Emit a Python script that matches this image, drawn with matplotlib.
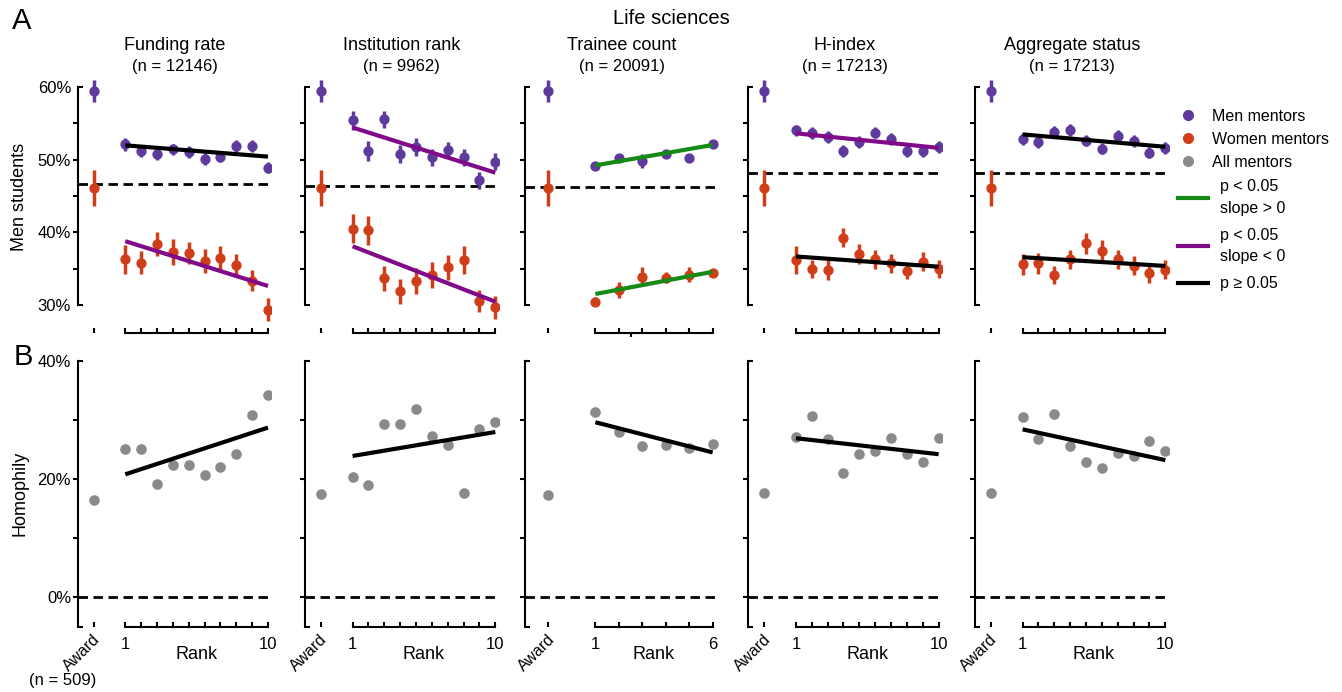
import numpy as np
import matplotlib
matplotlib.use('Agg')
import matplotlib.pyplot as plt
import matplotlib.transforms as mtransforms
from matplotlib.lines import Line2D

plt.rcParams['font.family'] = ['Liberation Sans', 'DejaVu Sans']

# ---------------- data ----------------
titles = ['Funding rate', 'Institution rank', 'Trainee count', 'H-index', 'Aggregate status']
n_labels = ['(n = 12146)', '(n = 9962)', '(n = 20091)', '(n = 17213)', '(n = 17213)']
n_ranks = [10, 10, 6, 10, 10]

award_men = [59.4, 59.4, 59.4, 59.4, 59.4]
award_men_err = [1.5, 1.5, 1.5, 1.5, 1.5]
award_women = [46.1, 46.1, 46.1, 46.1, 46.1]
award_women_err = [2.5, 2.5, 2.5, 2.5, 2.5]
baseline_men_students = [46.7, 46.4, 46.2, 48.1, 48.1]

men_funding = [52.1, 51.2, 50.8, 51.4, 51.0, 50.1, 50.4, 51.9, 51.9, 48.9]
men_funding_err = [0.9, 0.8, 0.8, 0.8, 0.8, 0.8, 0.8, 0.8, 0.8, 0.8]
women_funding = [36.3, 35.85, 38.4, 37.3, 37.2, 36.1, 36.5, 35.5, 33.4, 29.4]
women_funding_err = [1.95, 1.6, 1.65, 1.75, 1.5, 1.65, 1.6, 1.5, 1.5, 1.55]

men_institution = [55.4, 51.2, 55.5, 50.8, 51.7, 50.3, 51.3, 50.3, 47.15, 49.7]
men_institution_err = [1.3, 1.4, 1.2, 1.25, 1.2, 1.15, 1.15, 1.15, 1.15, 1.15]
women_institution = [40.5, 40.3, 33.7, 31.9, 33.35, 34.2, 35.2, 36.2, 30.6, 29.7]
women_institution_err = [2.0, 2.0, 1.7, 1.7, 1.8, 1.8, 1.7, 1.9, 1.5, 1.55]

men_trainee = [49.1, 50.25, 49.8, 50.7, 50.25, 52.1]
men_trainee_err = [0.2, 0.3, 1.0, 0.4, 0.5, 0.2]
women_trainee = [30.5, 32.1, 33.95, 33.8, 34.2, 34.5]
women_trainee_err = [0.6, 1.15, 1.35, 0.8, 1.05, 0.4]

men_hindex = [54.0, 53.6, 53.1, 51.2, 52.45, 53.7, 52.8, 51.2, 51.2, 51.7]
men_hindex_err = [0.8, 0.8, 0.8, 0.8, 0.8, 0.8, 0.8, 0.8, 0.8, 0.8]
women_hindex = [36.2, 35.0, 34.85, 39.3, 37.0, 36.3, 35.8, 34.7, 36.0, 34.95]
women_hindex_err = [1.95, 1.25, 1.4, 1.35, 1.4, 1.3, 1.3, 1.1, 1.25, 1.2]

men_aggregate = [52.8, 52.4, 53.8, 54.05, 52.6, 51.5, 53.2, 52.55, 50.95, 51.6]
men_aggregate_err = [0.8, 0.8, 0.8, 0.8, 0.8, 0.8, 0.8, 0.8, 0.8, 0.8]
women_aggregate = [35.6, 35.75, 34.2, 36.3, 38.5, 37.5, 36.3, 35.4, 34.4, 34.85]
women_aggregate_err = [1.5, 1.4, 1.25, 1.3, 1.45, 1.4, 1.3, 1.3, 1.3, 1.3]

# fitted trend lines: value at first rank, value at last rank, significance class
men_fit = [(51.95, 50.4), (54.4, 48.2), (49.2, 52.0), (53.6, 51.6), (53.45, 51.75)]
men_fit_sig = ['ns', 'neg', 'pos', 'neg', 'ns']
women_fit = [(38.8, 32.65), (38.1, 30.5), (31.55, 34.6), (36.7, 35.3), (36.6, 35.4)]
women_fit_sig = ['neg', 'neg', 'pos', 'ns', 'ns']

award_homophily = [16.4, 17.5, 17.3, 17.7, 17.7]
homophily_funding = [25.15, 25.15, 19.2, 22.45, 22.45, 20.75, 22.1, 24.2, 30.8, 34.2]
homophily_institution = [20.4, 18.95, 29.3, 29.3, 31.9, 27.2, 25.8, 17.6, 28.4, 29.7]
homophily_trainee = [31.4, 27.9, 25.6, 25.7, 25.3, 25.9]
homophily_hindex = [27.1, 30.7, 26.7, 21.0, 24.2, 24.8, 26.9, 24.2, 22.8, 26.95]
homophily_aggregate = [30.55, 26.8, 31.0, 25.6, 22.95, 21.8, 24.4, 23.9, 26.5, 24.7]
homophily_fit = [(20.8, 28.7), (23.9, 27.95), (29.6, 24.5), (26.9, 24.2), (28.4, 23.2)]

men_data = [men_funding, men_institution, men_trainee, men_hindex, men_aggregate]
men_err = [men_funding_err, men_institution_err, men_trainee_err, men_hindex_err, men_aggregate_err]
women_data = [women_funding, women_institution, women_trainee, women_hindex, women_aggregate]
women_err = [women_funding_err, women_institution_err, women_trainee_err, women_hindex_err, women_aggregate_err]
homophily_data = [homophily_funding, homophily_institution, homophily_trainee, homophily_hindex, homophily_aggregate]

# ---------------- style ----------------
C_MEN = '#5D3A9B'
C_WOMEN = '#D03E19'
C_ALL = '#8A8A8A'
C_POS = '#168A16'
C_NEG = '#800A88'
C_NS = '#000000'
SIG_COLOR = {'pos': C_POS, 'neg': C_NEG, 'ns': C_NS}

W, H = 1342, 692
fig = plt.figure(figsize=(W / 100, H / 100), dpi=100)

lefts_px = [77.7, 305, 525, 748.3, 975]
width_px = 193.5
top_row = (75, 333)      # px top, bottom
bot_row = (360.7, 627.0)

SP_LW = 1.5
TICK_LEN = 3.3
MS = 6.4


def px_rect(left, top, bottom):
    return [left / W, 1 - bottom / H, width_px / W, (bottom - top) / H]


def style_axes(ax, n):
    for s in ['top', 'right']:
        ax.spines[s].set_visible(False)
    for s in ['left', 'bottom']:
        ax.spines[s].set_linewidth(SP_LW)
    ax.spines['bottom'].set_bounds(1, n)
    ax.set_xlim(-2, n + (0.2 if n == 10 else 0.25))
    ax.set_xticks([-1] + list(range(1, n + 1)))
    ax.tick_params(axis='x', which='major', direction='in', length=3.6, width=SP_LW, pad=7, labelsize=12)
    ax.tick_params(axis='y', which='major', direction='out', length=TICK_LEN, width=SP_LW, pad=1.5, labelsize=12)
    ax.tick_params(axis='y', which='minor', direction='in', length=3.6, width=SP_LW, pad=4.8, labelsize=12)
    ax.tick_params(axis='x', which='minor', bottom=False)


for i in range(5):
    n = n_ranks[i]
    ranks = np.arange(1, n + 1)

    # ---------- top row ----------
    ax = fig.add_axes(px_rect(lefts_px[i], *top_row))
    style_axes(ax, n)
    ax.set_ylim(26.2, 61.6)
    ax.spines['left'].set_bounds(30, 60)
    ax.set_yticks([35, 40, 45, 50, 55])
    ax.set_yticks([30, 60], minor=True)
    if i == 0:
        ax.set_yticklabels(['', '40%', '', '50%', ''])
        ax.set_yticklabels(['30%', '60%'], minor=True)
    else:
        ax.tick_params(axis='y', which='both', labelleft=False)
    ax.tick_params(axis='x', labelbottom=False)
    if n == 6:
        # small stray downward tick visible under the Trainee count axis
        ax.set_xticks([2.5], minor=True)
        ax.tick_params(axis='x', which='minor', bottom=True, direction='out', length=3, width=SP_LW,
                       labelbottom=False)

    ax.axhline(baseline_men_students[i], color='black', lw=2.0, dashes=(3.4, 2.0), zorder=1)
    ax.errorbar([-1], [award_men[i]], yerr=[award_men_err[i]], fmt='o', color=C_MEN,
                ms=MS, elinewidth=2.5, capsize=0, zorder=3)
    ax.errorbar([-1], [award_women[i]], yerr=[award_women_err[i]], fmt='o', color=C_WOMEN,
                ms=MS, elinewidth=2.5, capsize=0, zorder=3)
    ax.errorbar(ranks, men_data[i], yerr=men_err[i], fmt='o', color=C_MEN,
                ms=MS, elinewidth=2.5, capsize=0, zorder=3)
    ax.errorbar(ranks, women_data[i], yerr=women_err[i], fmt='o', color=C_WOMEN,
                ms=MS, elinewidth=2.5, capsize=0, zorder=3)
    ax.plot([1, n], men_fit[i], color=SIG_COLOR[men_fit_sig[i]], lw=3, solid_capstyle='butt', zorder=4)
    ax.plot([1, n], women_fit[i], color=SIG_COLOR[women_fit_sig[i]], lw=3, solid_capstyle='butt', zorder=4)

    ax.text(0.5, 1 + 29 / 258, titles[i], transform=ax.transAxes, ha='center', va='center', fontsize=13)
    ax.text(0.5, 1 + 8 / 258, n_labels[i], transform=ax.transAxes, ha='center', va='center', fontsize=12)

    # ---------- bottom row ----------
    bx = fig.add_axes(px_rect(lefts_px[i], *bot_row))
    style_axes(bx, n)
    bx.set_ylim(-5, 40)
    bx.spines['left'].set_bounds(-5, 40)
    bx.set_yticks([0, 10, 20, 30])
    bx.set_yticks([-5, 40], minor=True)
    if i == 0:
        bx.set_yticklabels(['0%', '', '20%', ''])
        bx.set_yticklabels(['', '40%'], minor=True)
    else:
        bx.tick_params(axis='y', which='both', labelleft=False)
    xl = [''] + ['1'] + [''] * (n - 2) + [str(n)]
    bx.set_xticklabels(xl)

    trans = mtransforms.blended_transform_factory(bx.transData, bx.transAxes)
    award_tr = trans + mtransforms.ScaledTranslation(4 / 100, -10 / 100, fig.dpi_scale_trans)
    bx.text(-1, 0, 'Award', transform=award_tr, rotation=45, rotation_mode='anchor',
            ha='right', va='center', fontsize=11.5)

    bx.axhline(0, color='black', lw=2.0, dashes=(3.4, 2.0), zorder=1)
    bx.plot([-1], [award_homophily[i]], 'o', color=C_ALL, ms=6.6, zorder=3)
    bx.plot(ranks, homophily_data[i], 'o', color=C_ALL, ms=6.6, zorder=3)
    bx.plot([1, n], homophily_fit[i], color='black', lw=3, solid_capstyle='butt', zorder=4)

    bx.text((1 + n) / 2, -0.105, 'Rank', transform=trans, ha='center', va='center', fontsize=13)

# figure texts
fig.text(671 / W, 1 - 18 / H, 'Life sciences', ha='center', va='center', fontsize=14.5)
fig.text(22 / W, 1 - 21 / H, 'A', ha='center', va='center', fontsize=21)
fig.text(23 / W, 1 - 357 / H, 'B', ha='center', va='center', fontsize=21)
fig.text(20 / W, 1 - 197 / H, 'Men students', rotation=90, ha='center', va='center', fontsize=13)
fig.text(20.5 / W, 1 - 493 / H, 'Homophily', rotation=90, ha='center', va='center', fontsize=13)
fig.text(63 / W, 1 - 681 / H, '(n = 509)', ha='center', va='center', fontsize=12)

# legends
h1 = [Line2D([], [], ls='none', marker='o', ms=7, color=c) for c in (C_MEN, C_WOMEN, C_ALL)]
leg1 = fig.legend(h1, ['Men mentors', 'Women mentors', 'All mentors'], loc='upper left',
                  bbox_to_anchor=(1178 / W, 1 - 109 / H), frameon=False, fontsize=11.5,
                  handlelength=1.2, handletextpad=0.9, labelspacing=0.5, borderpad=0, borderaxespad=0)
labels2 = ['p < 0.05\nslope > 0', 'p < 0.05\nslope < 0', 'p \u2265 0.05']
h2 = [Line2D([], [], color=c, lw=3) for c in (C_POS, C_NEG, C_NS)]
leg2 = fig.legend(h2, labels2, loc='upper left',
                  bbox_to_anchor=(1178 / W, 1 - 179 / H), frameon=False, fontsize=11.5,
                  handlelength=1.9, handletextpad=0.75, labelspacing=0.75, borderpad=0, borderaxespad=0)
for t in leg2.get_texts():
    t.set_linespacing(1.55)

fig.savefig('out.png', dpi=100)
